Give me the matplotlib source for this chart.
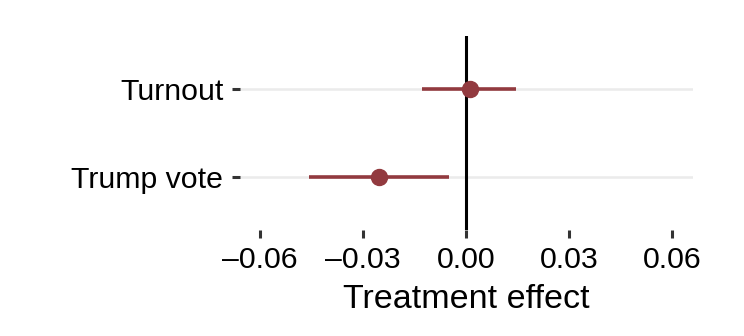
import matplotlib.pyplot as plt

outcomes = ['Trump vote', 'Turnout']
estimates = [-0.0254, 0.001]
ci_low = [-0.0458, -0.0128]
ci_high = [-0.0049, 0.0145]
x_ticks = [-0.06, -0.03, 0.0, 0.03, 0.06]
x_tick_labels = ['\u20130.06', '\u20130.03', '0.00', '0.03', '0.06']

plt.rcParams['font.family'] = ['Liberation Sans', 'DejaVu Sans']

fig = plt.figure(figsize=(7.44, 3.36), dpi=100)
ax = fig.add_axes([240 / 744, 1 - 230 / 336, 453 / 744, 194 / 336])

red = '#923A3F'
ypos = list(range(len(outcomes)))

# light horizontal guides at each outcome
for y in ypos:
    ax.axhline(y, color='#EBEBEB', lw=1.8, zorder=0)

ax.axvline(0, color='black', lw=2.2, zorder=1)

for y, est, lo, hi in zip(ypos, estimates, ci_low, ci_high):
    ax.plot([lo, hi], [y, y], color=red, lw=2.6, solid_capstyle='butt', zorder=2)
    ax.plot(est, y, 'o', color=red, ms=11.5, zorder=3)

ax.set_xlim(-0.0658, 0.066)
ax.set_ylim(-0.6, 1.6)
ax.set_yticks(ypos)
ax.set_yticklabels(outcomes)
ax.set_xticks(x_ticks)
ax.set_xticklabels(x_tick_labels)

for s in ax.spines.values():
    s.set_visible(False)

ax.tick_params(axis='both', colors='#333333', length=6, width=2.2,
               labelsize=21.8, labelcolor='black')
ax.tick_params(axis='y', pad=6)
ax.tick_params(axis='x', pad=5.5)
ax.set_xlabel('Treatment effect', fontsize=24.5, labelpad=7)

fig.savefig('out.png', dpi=100)
